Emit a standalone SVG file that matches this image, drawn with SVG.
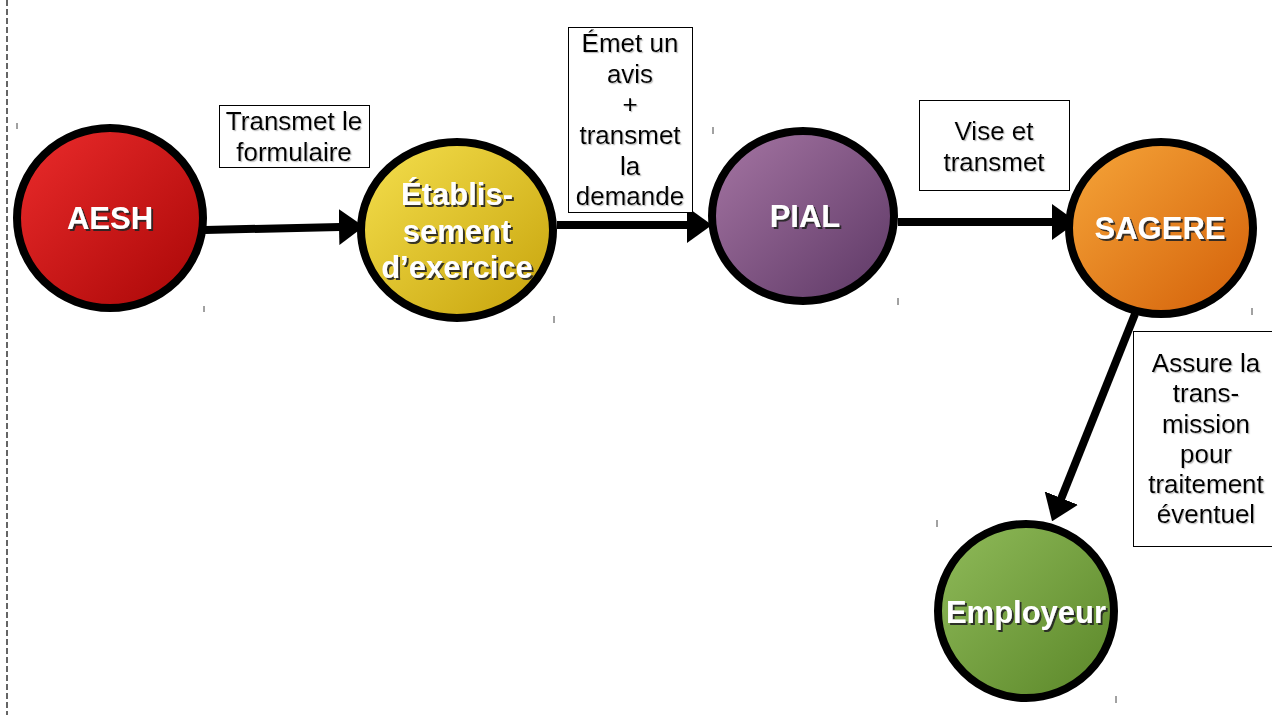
<svg xmlns="http://www.w3.org/2000/svg" width="1272" height="715" viewBox="0 0 1272 715">
<defs>
<style>
.node{stroke:#000;stroke-width:8}
.nt{font-family:"Liberation Sans",Arial,sans-serif;font-weight:bold;font-size:31px;fill:#fff;text-anchor:middle;filter:url(#ds)}
.lb{fill:#fff;stroke:#000;stroke-width:1}
.lt{font-family:"Liberation Sans",Arial,sans-serif;font-size:26px;fill:#000;text-anchor:middle;filter:url(#ls)}
.edge{stroke:#000;stroke-width:8;fill:none;marker-end:url(#ah)}
.tick{stroke:#444;stroke-width:1}
</style>
<filter id="ds" x="-10%" y="-20%" width="130%" height="150%"><feDropShadow dx="2" dy="2" stdDeviation="0.6" flood-color="#222" flood-opacity="0.9"/></filter>
<filter id="ls" x="-10%" y="-20%" width="130%" height="150%"><feDropShadow dx="1.2" dy="1.2" stdDeviation="0.6" flood-color="#999" flood-opacity="0.6"/></filter>
<marker id="ah" markerUnits="userSpaceOnUse" markerWidth="25" markerHeight="36" viewBox="0 0 25 36" refX="1" refY="18" orient="auto"><path d="M0,0 L25,18 L0,36 z" fill="#000"/></marker>
<linearGradient id="gr" x1="0" y1="0" x2="1" y2="1"><stop offset="0" stop-color="#ec2c2c"/><stop offset="1" stop-color="#a80606"/></linearGradient>
<linearGradient id="gy" x1="0" y1="0" x2="1" y2="1"><stop offset="0" stop-color="#f5e04e"/><stop offset="1" stop-color="#c6a20a"/></linearGradient>
<linearGradient id="gp" x1="0" y1="0" x2="1" y2="1"><stop offset="0" stop-color="#a676a4"/><stop offset="1" stop-color="#5c3764"/></linearGradient>
<linearGradient id="go" x1="0" y1="0" x2="1" y2="1"><stop offset="0" stop-color="#f6a63a"/><stop offset="1" stop-color="#d35f08"/></linearGradient>
<linearGradient id="gg" x1="0" y1="0" x2="1" y2="1"><stop offset="0" stop-color="#90bb5a"/><stop offset="1" stop-color="#5a8628"/></linearGradient>
</defs>
<rect width="1272" height="715" fill="#fff"/>
<line x1="7" y1="0" x2="7" y2="715" stroke="#333" stroke-width="1.5" stroke-dasharray="6 3"/>
<g id="ticks">
<line class="tick" x1="17" y1="123" x2="17" y2="129"/>
<line class="tick" x1="204" y1="306" x2="204" y2="312"/>
<line class="tick" x1="361" y1="138" x2="361" y2="144"/>
<line class="tick" x1="554" y1="316" x2="554" y2="323"/>
<line class="tick" x1="713" y1="127" x2="713" y2="134"/>
<line class="tick" x1="898" y1="298" x2="898" y2="305"/>
<line class="tick" x1="1068" y1="137" x2="1068" y2="143"/>
<line class="tick" x1="1252" y1="308" x2="1252" y2="315"/>
<line class="tick" x1="937" y1="520" x2="937" y2="527"/>
<line class="tick" x1="1116" y1="696" x2="1116" y2="703"/>
</g>
<g id="connectors">
<line class="edge" x1="205" y1="230" x2="340" y2="227"/>
<line class="edge" x1="557" y1="225" x2="688" y2="225"/>
<line class="edge" x1="898" y1="222" x2="1053" y2="222"/>
<line class="edge" x1="1135" y1="314" x2="1061" y2="499"/>
</g>
<g id="label1"><rect class="lb" x="219.5" y="105.5" width="150" height="62"/>
<text class="lt" x="294" y="130">Transmet le</text><text class="lt" x="294" y="161">formulaire</text></g>
<g id="label2"><rect class="lb" x="568.5" y="27.5" width="124" height="185"/>
<text class="lt" x="630" y="52">Émet un</text><text class="lt" x="630" y="83">avis</text><text class="lt" x="630" y="113">+</text><text class="lt" x="630" y="144">transmet</text><text class="lt" x="630" y="175">la</text><text class="lt" x="630" y="205">demande</text></g>
<g id="label3"><rect class="lb" x="919.5" y="100.5" width="150" height="90"/>
<text class="lt" x="994" y="140">Vise et</text><text class="lt" x="994" y="171">transmet</text></g>
<g id="label4"><rect class="lb" x="1133.5" y="331.5" width="145" height="215"/>
<text class="lt" x="1206" y="372">Assure la</text><text class="lt" x="1206" y="402">trans-</text><text class="lt" x="1206" y="433">mission</text><text class="lt" x="1206" y="463">pour</text><text class="lt" x="1206" y="493">traitement</text><text class="lt" x="1206" y="523">éventuel</text></g>
<g id="aesh"><ellipse class="node" cx="110" cy="218" rx="93" ry="90" fill="url(#gr)"/><text class="nt" x="110" y="229">AESH</text></g>
<g id="etablissement"><ellipse class="node" cx="457" cy="230" rx="96" ry="88" fill="url(#gy)"/>
<text class="nt" x="457" y="205">Établis-</text><text class="nt" x="457" y="242">sement</text><text class="nt" x="457" y="278">d’exercice</text></g>
<g id="pial"><ellipse class="node" cx="803" cy="216" rx="91" ry="85" fill="url(#gp)"/><text class="nt" x="805" y="227">PIAL</text></g>
<g id="sagere"><ellipse class="node" cx="1161" cy="228" rx="92" ry="86" fill="url(#go)"/><text class="nt" x="1160" y="239">SAGERE</text></g>
<g id="employeur"><ellipse class="node" cx="1026" cy="611" rx="88" ry="87" fill="url(#gg)"/><text class="nt" x="1026" y="623">Employeur</text></g>
</svg>
